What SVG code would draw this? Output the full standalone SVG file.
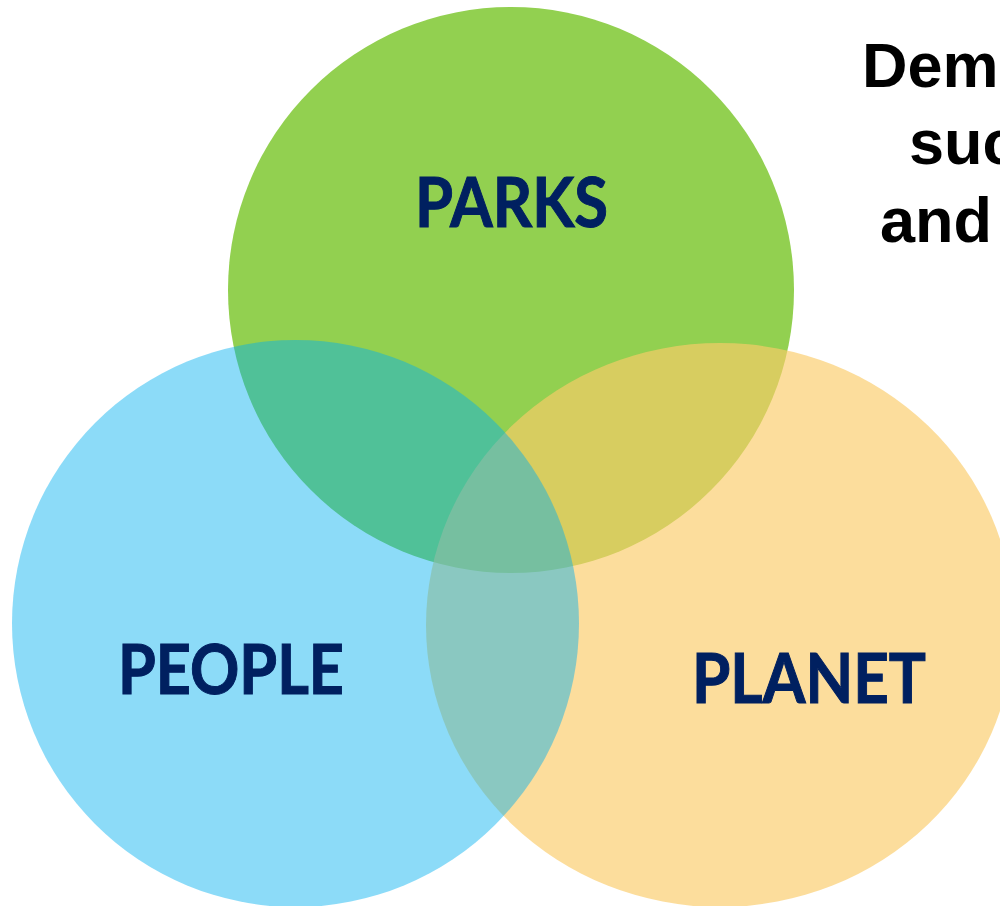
<svg xmlns="http://www.w3.org/2000/svg" width="1000" height="906" viewBox="0 0 1000 906">
<style>
.lbl{font-family:Lato,"Open Sans","Liberation Sans",sans-serif;font-weight:700;font-size:68px;fill:#002060;stroke:#002060;stroke-width:1}
.ttl{font-family:"Liberation Sans",Arial,sans-serif;font-weight:700;font-size:63px;fill:#000}
</style>
<rect width="1000" height="906" fill="#fff"/>
<g id="parks"><circle cx="511" cy="290" r="283" fill="#92D050"/></g>
<g id="planet"><ellipse cx="720" cy="625" rx="294" ry="282" fill="#FBCB69" fill-opacity="0.66"/></g>
<g id="people"><circle cx="295.5" cy="623.5" r="283.5" fill="#00B0F0" fill-opacity="0.45"/></g>
<g id="labels">
<text class="lbl" x="415" y="227" textLength="193" lengthAdjust="spacingAndGlyphs">PARKS</text>
<text class="lbl" x="118" y="694" textLength="226" lengthAdjust="spacingAndGlyphs">PEOPLE</text>
<text class="lbl" x="692" y="703" textLength="234" lengthAdjust="spacingAndGlyphs">PLANET</text>
</g>
<g id="title">
<text class="ttl" x="862" y="87">Dem</text>
<text class="ttl" x="909" y="164">suc</text>
<text class="ttl" x="880" y="242">and</text>
</g>
<g id="connectors"/>
</svg>
